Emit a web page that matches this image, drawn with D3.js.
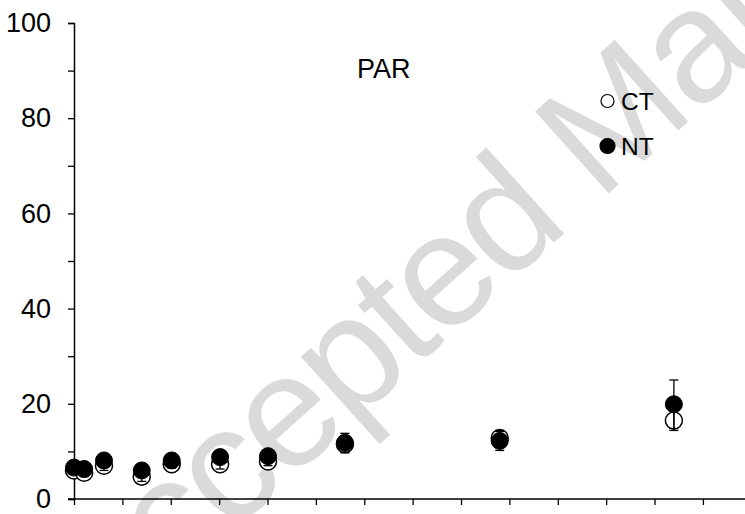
<!DOCTYPE html>
<html><head><meta charset="utf-8">
<script src="https://cdn.jsdelivr.net/npm/d3@7"></script>
<style>body{margin:0;background:#fff}svg{display:block}text{font-family:"Liberation Sans",Arial,sans-serif}</style>
</head><body><svg id="c" width="745" height="514"></svg>
<script>
// Sampling times (axis units, unlabeled ticks every 1 unit)
const times = [0, 0.21, 0.62, 1.40, 2.02, 3.02, 4.01, 5.60, 8.80, 12.40];
const ctValues = [6.0, 5.5, 7.0, 4.7, 7.3, 7.3, 7.9, 11.5, 12.8, 16.5];
const ctErrors = [0.8, 0.8, 1.0, 1.0, 0.8, 1.0, 0.9, 1.8, 1.6, 2.1];
const ntValues = [6.6, 6.3, 8.1, 6.0, 8.1, 8.8, 9.0, 11.8, 12.2, 19.9];
const ntErrors = [0.7, 0.7, 0.9, 0.9, 0.7, 0.9, 0.9, 2.0, 2.0, 5.1];
const yTicks = [0, 20, 40, 60, 80, 100];
const yMinorTicks = [10, 30, 50, 70, 90];
const xTicks = d3.range(0, 14, 1);
const seriesNames = ["CT", "NT"];
const chartTitle = "PAR";
const watermark = "Accepted Manuscript";

const svg = d3.select("#c");
const x = d3.scaleLinear().domain([0, 13.87]).range([74, 745]);
const y = d3.scaleLinear().domain([0, 100]).range([499, 23]);

// watermark
svg.append("text").attr("transform", "translate(97,654) rotate(-42)")
  .attr("font-size", 160).attr("letter-spacing", -4)
  .attr("fill", "#dadada")
  .text(watermark);

// axes
const gx = svg.append("g").attr("transform", `translate(0,${y(0)})`)
  .call(d3.axisBottom(x).tickValues(xTicks).tickSize(6).tickFormat(""));
const gy = svg.append("g").attr("transform", `translate(${x(0)},0)`)
  .call(d3.axisLeft(y).tickValues(yTicks).tickSize(6).tickPadding(17).tickFormat(d3.format("d")));
svg.append("g").attr("transform", `translate(${x(0)},0)`)
  .call(d3.axisLeft(y).tickValues(yMinorTicks).tickSize(6).tickFormat(""))
  .select(".domain").remove();
svg.selectAll(".domain").attr("stroke", "#000").attr("stroke-width", 1.5);
svg.selectAll(".tick line").attr("stroke", "#000").attr("stroke-width", 1.3);
gy.selectAll("text").attr("font-size", 27).attr("fill", "#000");
gx.select(".domain").attr("d", `M${x(0)-6},0H745`);

const ct = times.map((t, i) => ({t, v: ctValues[i], e: ctErrors[i]}));
const nt = times.map((t, i) => ({t, v: ntValues[i], e: ntErrors[i]}));
const R = 8.5;

svg.append("g").selectAll("circle").data(ct).join("circle")
  .attr("cx", d => x(d.t)).attr("cy", d => y(d.v)).attr("r", R)
  .attr("fill", "#fff").attr("stroke", "#000").attr("stroke-width", 1.5);
svg.append("g").selectAll("circle").data(nt).join("circle")
  .attr("cx", d => x(d.t)).attr("cy", d => y(d.v)).attr("r", R)
  .attr("fill", "#000").attr("stroke", "#000").attr("stroke-width", 1);

function errBars(data) {
  const g = svg.append("g").attr("stroke", "#000").attr("stroke-width", 1.3);
  g.selectAll("line.v").data(data).join("line").attr("class", "v")
    .attr("x1", d => x(d.t)).attr("x2", d => x(d.t))
    .attr("y1", d => y(d.v - d.e)).attr("y2", d => y(d.v + d.e));
  ["-", "+"].forEach(s => {
    g.selectAll("line.c" + (s === "-" ? "m" : "p")).data(data).join("line")
      .attr("class", "c" + (s === "-" ? "m" : "p"))
      .attr("x1", d => x(d.t) - 4.5).attr("x2", d => x(d.t) + 4.5)
      .attr("y1", d => y(s === "-" ? d.v - d.e : d.v + d.e))
      .attr("y2", d => y(s === "-" ? d.v - d.e : d.v + d.e));
  });
}
errBars(ct);
errBars(nt);

// title
svg.append("text").attr("x", 357).attr("y", 78).attr("font-size", 27).text(chartTitle);

// legend
const leg = svg.append("g");
seriesNames.forEach((n, i) => {
  const cy = 101 + i * 45;
  leg.append("circle").attr("cx", 607.5).attr("cy", cy).attr("r", i ? 7.5 : 6.5)
    .attr("fill", i ? "#000" : "#fff").attr("stroke", "#000").attr("stroke-width", 1.2);
  leg.append("text").attr("x", 621).attr("y", cy + 8.5).attr("font-size", 24.5).text(n);
});
</script></body></html>
